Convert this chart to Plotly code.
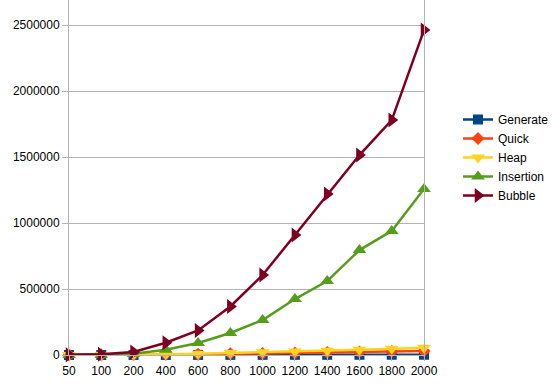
import plotly.graph_objects as go

categories = ["50", "100", "200", "400", "600", "800", "1000", "1200", "1400", "1600", "1800", "2000"]
generate = [50, 100, 200, 400, 600, 800, 1000, 1200, 1400, 1600, 1800, 2000]
quick = [200, 500, 1200, 3000, 6000, 9000, 12000, 15000, 18000, 22000, 26000, 30000]
heap = [300, 800, 2000, 5000, 10000, 15000, 20000, 26000, 32000, 40000, 47000, 55000]
insertion = [500, 2500, 10000, 40000, 91000, 167000, 265000, 424000, 560000, 795000, 940000, 1258000]
bubble = [1000, 5000, 23000, 93000, 186000, 368000, 606000, 909000, 1220000, 1515000, 1780000, 2462000]

series = [
    ("Generate", generate, "#004586", "square", 10),
    ("Quick", quick, "#ff420e", "diamond", 10),
    ("Heap", heap, "#ffd320", "triangle-down", 12),
    ("Insertion", insertion, "#579d1c", "triangle-up", 12),
    ("Bubble", bubble, "#7e0021", "triangle-right", 13),
]

xidx = list(range(len(categories)))
fig = go.Figure()
for name, vals, color, sym, size in series:
    fig.add_trace(go.Scatter(
        x=xidx, y=vals, name=name, mode="lines+markers",
        line=dict(color=color, width=2.5),
        marker=dict(symbol=sym, size=size, color=color),
        cliponaxis=False,
    ))

grid = "#b3b3b3"
fig.update_layout(
    width=553, height=389,
    margin=dict(l=69, r=129, t=0, b=34, autoexpand=False),
    paper_bgcolor="white", plot_bgcolor="white",
    font=dict(family="Liberation Sans, Arial, sans-serif", size=12, color="black"),
    showlegend=True,
    legend=dict(
        x=(458 - 69) / 355, y=1 - 105 / 355, xanchor="left", yanchor="top",
        font=dict(size=12), tracegroupgap=0, bgcolor="rgba(0,0,0,0)",
    ),
    xaxis=dict(
        range=[0, len(categories) - 1], automargin=False,
        tickmode="array", tickvals=xidx, ticktext=categories,
        showgrid=False, zeroline=False,
        showline=True, linecolor=grid, linewidth=1,
        ticks="outside", ticklen=5, tickcolor=grid,
    ),
    yaxis=dict(
        range=[0, 2690000], tickmode="linear", tick0=0, dtick=500000,
        tickformat="d", automargin=False,
        showgrid=True, gridcolor=grid, gridwidth=1, zeroline=False,
        showline=True, linecolor=grid, linewidth=1, mirror=True,
        ticks="outside", ticklen=6, tickcolor=grid,
    ),
)

fig.write_html("out.html", config={"displayModeBar": False},
               post_script="document.body.style.margin='0';")
